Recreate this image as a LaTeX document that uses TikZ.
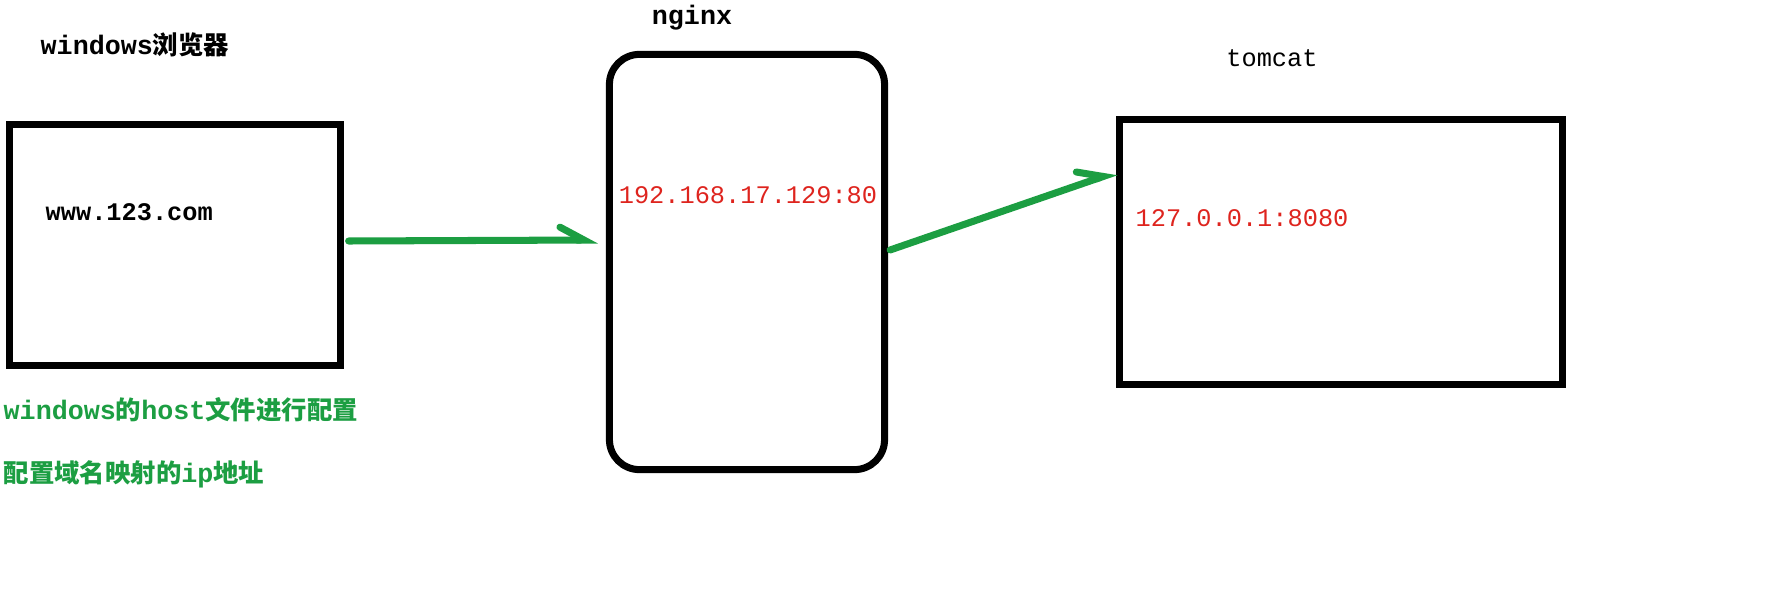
\documentclass[tikz,border=0pt]{standalone}
\usepackage{fontspec}
\setmainfont{Liberation Mono}
\newfontfamily\cjk[Scale=0.95]{Noto Sans CJK SC}
\usepackage{xcolor}
\usetikzlibrary{arrows.meta}
\definecolor{arrgreen}{RGB}{28,158,66}
\definecolor{ipred}{RGB}{222,36,30}
\tikzset{
	box/.style={draw=black, line width=2pt, minimum width=#1},
	label/.style={inner sep=0pt, font=\fontsize{7.2}{9}\selectfont},
	boldlabel/.style={inner sep=0pt, font=\fontsize{7.6}{9}\selectfont\bfseries},
	arr/.style={draw=arrgreen, line width=2pt, line cap=round,
		-{Straight Barb[harpoon, length=2.4mm, width=2.6mm, line cap=round]}}
}
\begin{document}
\begin{tikzpicture}[x=0.01cm, y=-0.01cm]
	\useasboundingbox (0,0) rectangle (1771,603);
	% boxes
	\node[box=3.3cm, minimum height=2.4cm] (browser) at (175,245) {};
	\node[box=2.75cm, minimum height=4.15cm, rounded corners=3mm] (nginx) at (747,262) {};
	\node[box=4.42cm, minimum height=2.65cm] (tomcat) at (1341,252) {};
	% titles
	\node[boldlabel, anchor=west] (browsertitle) at (40,45) {windows{\cjk 浏览器}};
	\node[boldlabel] (nginxtitle) at (692,18) {nginx};
	\node[label] (tomcattitle) at (1272,58) {tomcat};
	% addresses
	\node[boldlabel, anchor=west, font=\fontsize{7.2}{9}\selectfont\bfseries] (domain) at (45,212) {www.123.com};
	\node[label, text=ipred] (nginxip) at (748,195) {192.168.17.129:80};
	\node[label, text=ipred, anchor=west] (tomcatip) at (1135,218) {127.0.0.1:8080};
	% notes
	\node[boldlabel, anchor=west, text=arrgreen] (note1) at (3,410) {windows{\cjk 的}host{\cjk 文件进行配置}};
	\node[boldlabel, anchor=west, text=arrgreen] (note2) at (3,474) {{\cjk 配置域名映射的}ip{\cjk 地址}};
	% arrows
	\draw[arr] ([xshift=0.05cm, yshift=0.04cm]browser.east) -- ([xshift=-0.08cm, yshift=0.22cm]nginx.west);
	\draw[arr] ([xshift=0.02cm, yshift=0.12cm]nginx.east) -- ([yshift=0.8cm]tomcat.west);
\end{tikzpicture}
\end{document}
